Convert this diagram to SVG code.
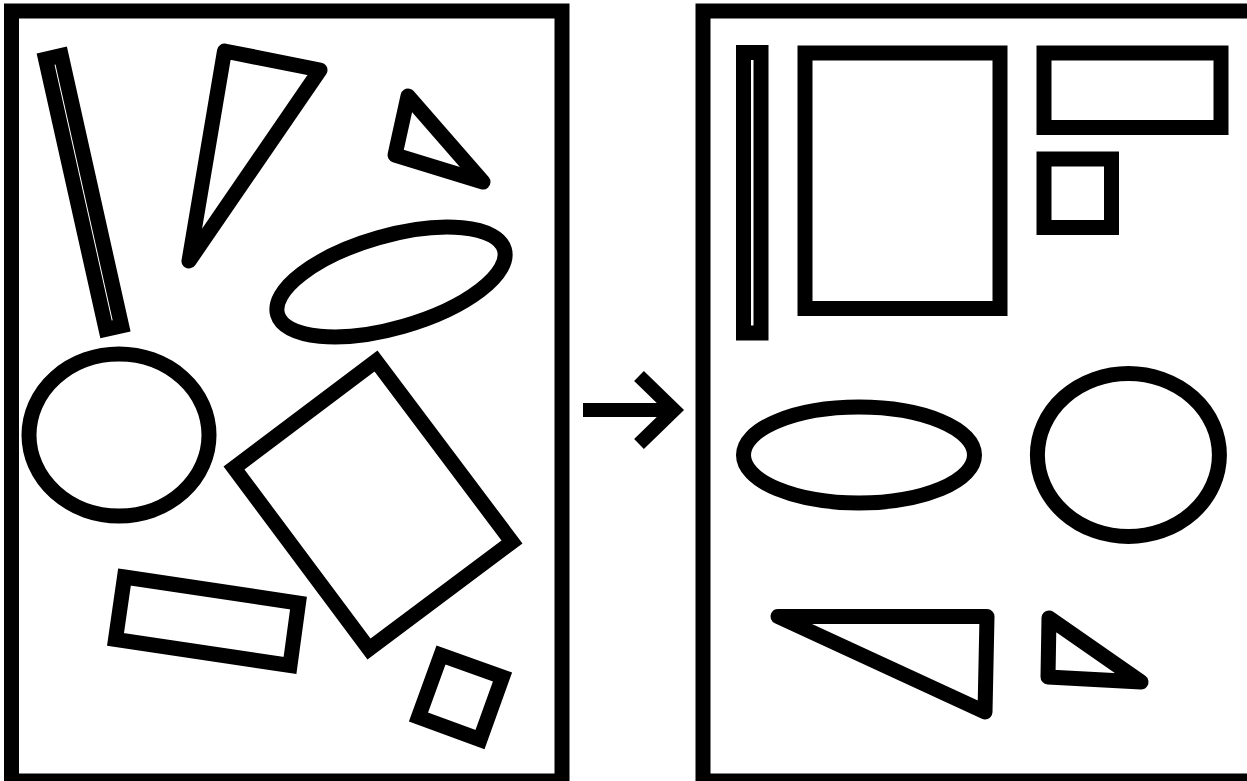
<svg xmlns="http://www.w3.org/2000/svg" width="1247" height="781" viewBox="0 0 1247 781">
<style>
.s{fill:none;stroke:#000;stroke-width:15;stroke-linejoin:miter}
.t{fill:none;stroke:#000;stroke-width:15;stroke-linejoin:round}
.f{fill:none;stroke:#000;stroke-width:15;stroke-linejoin:miter}
</style>
<rect width="1247" height="781" fill="#fff"/>
<g id="panel-before">
  <rect id="frame-left" class="f" x="11.5" y="11" width="550.5" height="770"/>
  <g id="b-thin-rect"><rect class="s" x="-8" y="-138" width="16" height="277" transform="translate(83.5,192) rotate(-12.6)"/></g>
  <g id="b-tall-triangle"><polygon class="t" points="224.5,51 320,70 189,261"/></g>
  <g id="b-small-triangle"><polygon class="t" points="408,96 483,182 395,155"/></g>
  <g id="b-ellipse"><ellipse class="s" cx="0" cy="0" rx="118" ry="46" transform="translate(391,282) rotate(-16)"/></g>
  <g id="b-circle"><ellipse class="s" cx="119" cy="435" rx="90" ry="81"/></g>
  <g id="b-big-rect"><polygon class="s" points="376,361 512,542 369,649 234,468"/></g>
  <g id="b-rect"><polygon class="s" points="124.5,577 298.5,603 290,665.5 115.5,639.5"/></g>
  <g id="b-square"><polygon class="s" points="441,655 502.5,677 480,739.5 418.5,717"/></g>
</g>
<g id="connectors">
  <line x1="583" y1="410" x2="668" y2="410" stroke="#000" stroke-width="14"/>
  <polyline points="639,376 674,410 639,444" fill="none" stroke="#000" stroke-width="14" stroke-linejoin="miter"/>
</g>
<g id="panel-after">
  <rect id="frame-right" class="f" x="703" y="11" width="560" height="770"/>
  <g id="a-thin-rect"><rect class="s" x="743.5" y="52.5" width="17.5" height="280.5"/></g>
  <g id="a-big-rect"><rect class="s" x="805" y="53" width="195" height="255.5"/></g>
  <g id="a-rect"><rect class="s" x="1044" y="53" width="177" height="74.5"/></g>
  <g id="a-square"><rect class="s" x="1044" y="159" width="67.5" height="68.5"/></g>
  <g id="a-ellipse"><ellipse class="s" cx="859" cy="455" rx="115.5" ry="48"/></g>
  <g id="a-circle"><ellipse class="s" cx="1128.4" cy="455" rx="91" ry="81.5"/></g>
  <g id="a-triangle"><polygon class="t" points="778,616.5 987,616.5 985,712"/></g>
  <g id="a-small-triangle"><polygon class="t" points="1049,618 1141,682 1048,677"/></g>
</g>
</svg>
